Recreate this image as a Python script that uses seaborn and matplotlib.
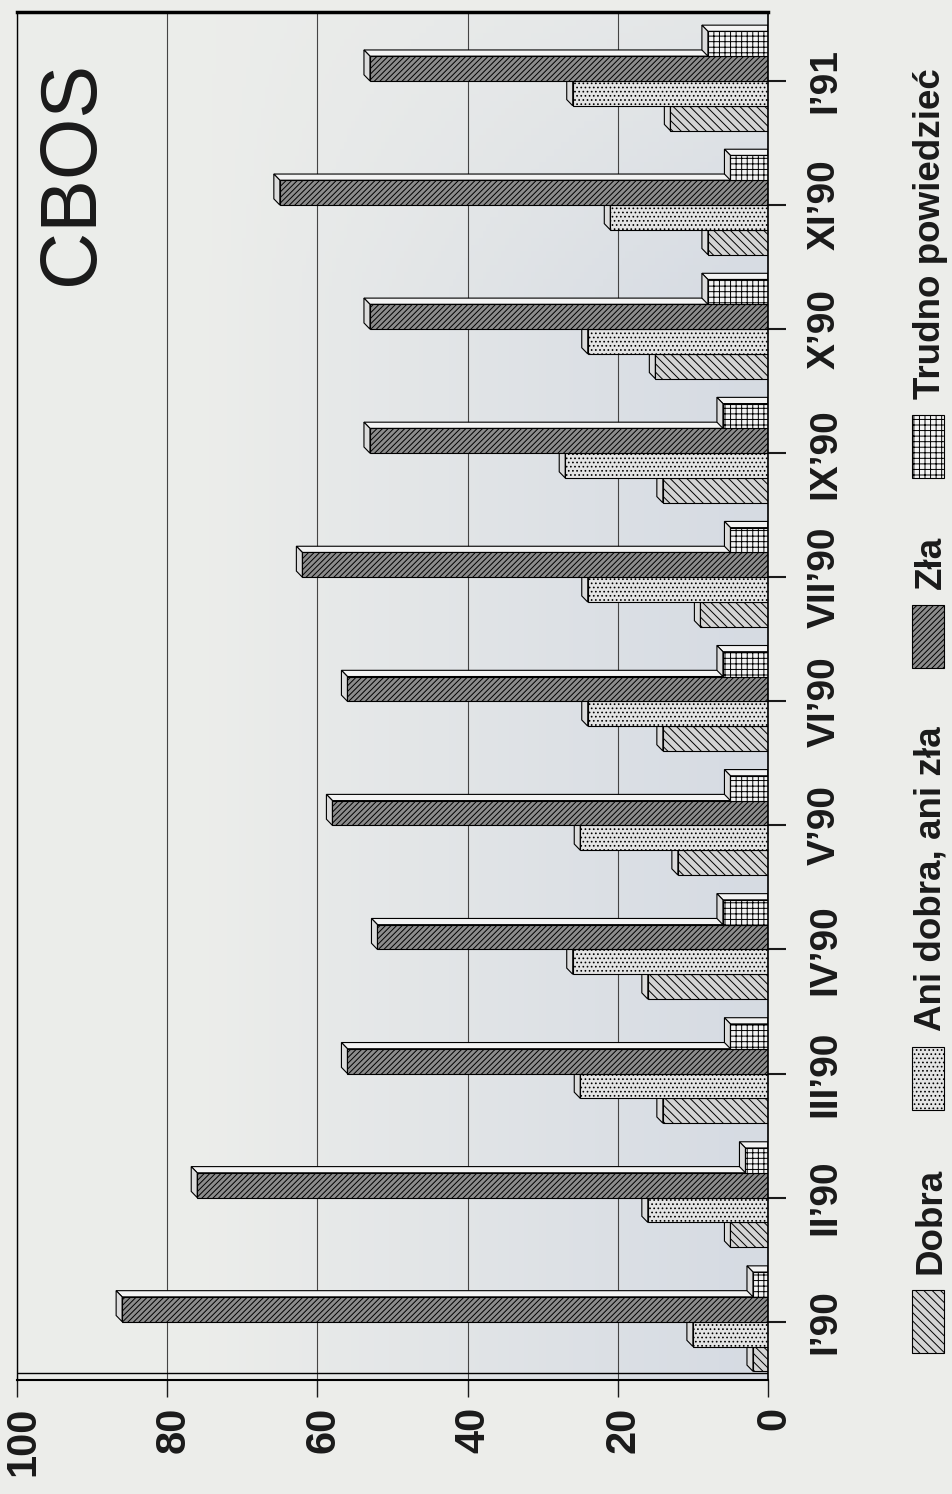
import numpy as np
import pandas as pd
import matplotlib
matplotlib.use("Agg")
import matplotlib.pyplot as plt
from matplotlib.patches import Polygon, Rectangle
from matplotlib.transforms import ScaledTranslation
import seaborn as sns

# CBOS survey: assessment of the situation, % of answers per survey month
MONTHS = ["I’90", "II’90", "III’90", "IV’90", "V’90", "VI’90",
          "VII’90", "IX’90", "X’90", "XI’90", "I’91"]
ANSWERS = ["Dobra", "Ani dobra, ani zła", "Zła", "Trudno powiedzieć"]
DOBRA = [2, 5, 14, 16, 12, 14, 9, 14, 15, 8, 13]
ANI = [10, 16, 25, 26, 25, 24, 24, 27, 24, 21, 26]
ZLA = [86, 76, 56, 52, 58, 56, 62, 53, 53, 65, 53]
TRUDNO = [2, 3, 5, 6, 5, 6, 5, 6, 8, 5, 8]
XTICKS = [0, 20, 40, 60, 80, 100]

FILL = {"Dobra": "#d4d4d4", "Ani dobra, ani zła": "#e4e4e4",
        "Zła": "#8c8c8c", "Trudno powiedzieć": "#f4f4f4"}
HATCH = {"Dobra": "\\\\\\\\", "Ani dobra, ani zła": "....",
         "Zła": "//////", "Trudno powiedzieć": "+++"}
INK = "#1a1a1a"
PAPER = "#ecedea"

W, H = 952, 1494
sns.set_style("white")
plt.rcParams["font.family"] = ["Liberation Sans", "DejaVu Sans"]
plt.rcParams["hatch.linewidth"] = 0.7

df = pd.DataFrame({
    "miesiac": MONTHS * 4,
    "odp": np.repeat(ANSWERS, len(MONTHS)),
    "proc": DOBRA + ANI + ZLA + TRUDNO,
})

fig = plt.figure(figsize=(W / 100, H / 100), dpi=100, facecolor=PAPER)
ax = fig.add_axes([17 / W, 1 - 1380 / H, 751 / W, 1368 / H])

# soft shaded back wall
gx = np.linspace(0, 1, 200)
gy = np.linspace(0, 1, 200)[:, None]
shade = np.clip(gx * 1.4 - 0.35, 0, 1) * (1 - 0.6 * np.clip((gy - 0.8) / 0.2, 0, 1))
light = np.array([0.925, 0.93, 0.92])
dark = np.array([0.84, 0.86, 0.89])
img = light + (dark - light) * shade[..., None]
ax.imshow(img, extent=(0, 1, 0, 1), transform=ax.transAxes, aspect="auto",
          origin="lower", zorder=0)

sns.barplot(data=df, x="proc", y="miesiac", hue="odp", order=MONTHS,
            hue_order=ANSWERS, orient="h", palette=FILL, saturation=1,
            width=0.8, edgecolor="black", linewidth=0.8, legend=False, ax=ax)

# fake 3D: top face and end face behind every bar
DX, DY = 0.8, 0.05
for cont, ans in zip(ax.containers, ANSWERS):
    for bar in cont:
        x0, y0 = bar.get_x(), bar.get_y()
        w, h = bar.get_width(), bar.get_height()
        z = 2 + y0 * 0.01
        bar.set_hatch(HATCH[ans])
        bar.set_zorder(z)
        top = Polygon([(x0, y0 + h), (x0 + w, y0 + h), (x0 + w + DX, y0 + h + DY),
                       (x0, y0 + h + DY)], closed=True, fc="#f3f3f3",
                      ec="black", lw=0.8, zorder=z - 0.001)
        end = Polygon([(x0 + w, y0), (x0 + w + DX, y0 + DY),
                       (x0 + w + DX, y0 + h + DY), (x0 + w, y0 + h)],
                      closed=True, fc="#dcdcdc", ec="black", lw=0.8,
                      zorder=z - 0.001)
        ax.add_patch(top)
        ax.add_patch(end)

ax.set_xlim(100, 0)
ax.set_ylim(-0.47, 10.556)
ax.set_xlabel("")
ax.set_ylabel("")

# floor slab edge
ax.axhline(-0.415, color="black", lw=1.0, zorder=5)

ax.set_xticks(XTICKS)
ax.set_xticklabels([str(v) for v in XTICKS])
ax.set_yticks(range(len(MONTHS)))
ax.set_yticklabels(MONTHS)
ax.grid(axis="x", color="#444444", lw=0.8, zorder=1)
ax.grid(axis="y", visible=False)
ax.set_axisbelow(True)

ax.yaxis.tick_right()
ax.tick_params(axis="x", bottom=True, direction="out", length=12, width=1.0,
               pad=7, labelsize=30, labelrotation=90, colors=INK)
ax.tick_params(axis="y", right=True, left=False, labelright=True, labelleft=False,
               direction="out", length=13, width=1.5, pad=15, labelsize=28,
               labelrotation=90, colors=INK)
shift = ScaledTranslation(6 / 100, 0, fig.dpi_scale_trans)
for lab in ax.get_xticklabels():
    lab.set_fontweight("bold")
    lab.set_transform(lab.get_transform() + shift)
for lab in ax.get_yticklabels():
    lab.set_fontweight("bold")
    lab.set_va("center")

for side, lw in {"left": 1.0, "right": 1.2, "top": 2.5, "bottom": 1.5}.items():
    ax.spines[side].set_visible(True)
    ax.spines[side].set_color("black")
    ax.spines[side].set_linewidth(lw)

fig.text(73 / W, 1 - 173 / H, "CBOS", rotation=90, fontsize=57,
         ha="center", va="center", color=INK)

# legend stacked along the right edge, reading bottom to top
fig.canvas.draw()
rend = fig.canvas.get_renderer()
ypix = 1353
for ans in ANSWERS:
    sq = Rectangle((912 / W, 1 - ypix / H), 32 / W, 63 / H,
                   transform=fig.transFigure, facecolor=FILL[ans],
                   hatch=HATCH[ans], edgecolor="black", lw=0.8)
    fig.add_artist(sq)
    ypix -= 63 + 16
    t = fig.text(931 / W, 1 - ypix / H, ans, rotation=90, ha="center",
                 va="bottom", fontsize=26.5, fontweight="bold", color=INK)
    ypix -= t.get_window_extent(rend).height + 58

fig.savefig("out.png", dpi=100, facecolor=PAPER)
